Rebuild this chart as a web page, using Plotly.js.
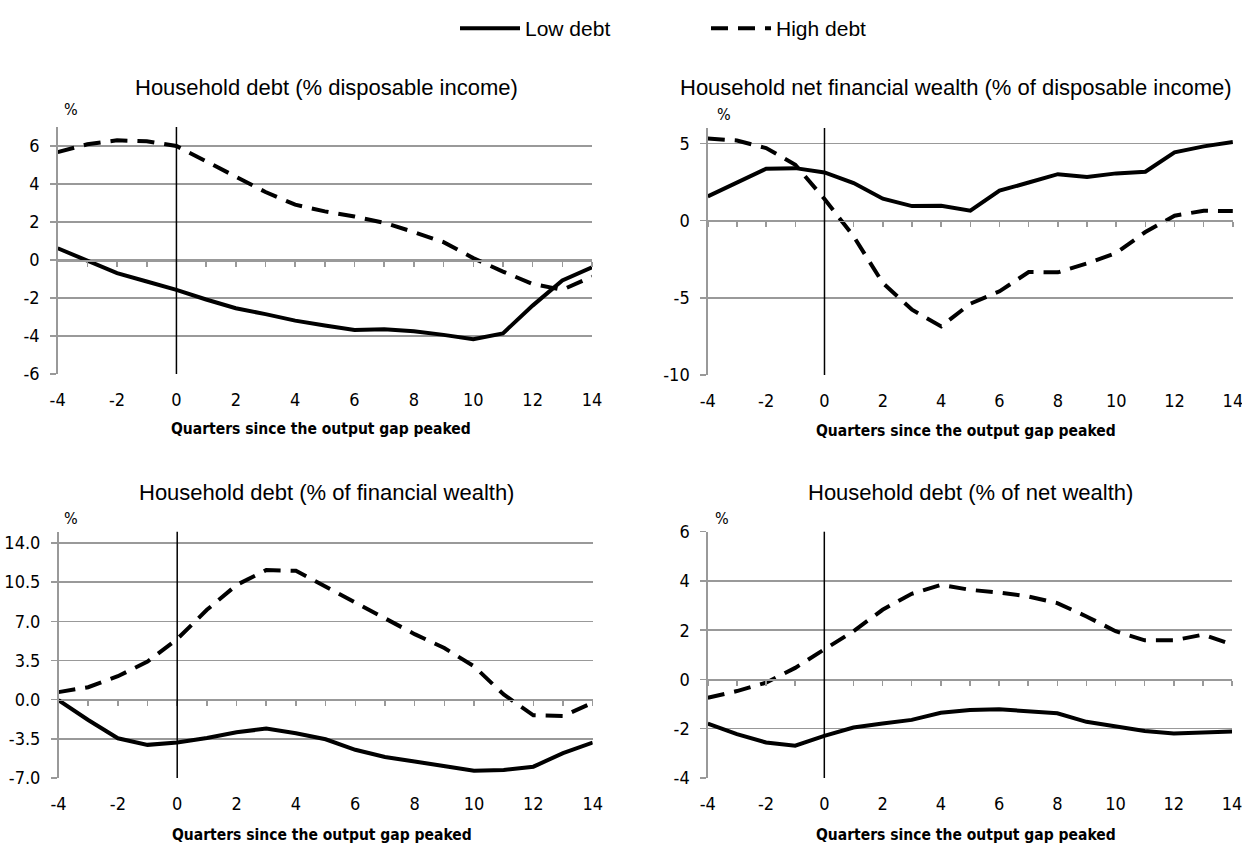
<!DOCTYPE html>
<html>
<head>
<meta charset="utf-8">
<script src="https://cdn.plot.ly/plotly-3.0.1.min.js"></script>
<style>html,body{margin:0;padding:0;background:#fff;}#chart{width:1242px;height:844px;}</style>
</head>
<body>
<div id="chart"></div>
<script>
// ---- data ----
const quarters = [-4, -3, -2, -1, 0, 1, 2, 3, 4, 5, 6, 7, 8, 9, 10, 11, 12, 13, 14];
const peakQuarter = 0;
const xTickVals = [-4, -2, 0, 2, 4, 6, 8, 10, 12, 14];
const xTickText = ['-4', '-2', '0', '2', '4', '6', '8', '10', '12', '14'];

const debtIncomeLow  = [0.62, -0.05, -0.69, -1.13, -1.57, -2.08, -2.54, -2.85, -3.19, -3.45, -3.68, -3.64, -3.75, -3.94, -4.17, -3.86, -2.40, -1.08, -0.38];
const debtIncomeHigh = [5.68, 6.09, 6.30, 6.25, 6.00, 5.19, 4.37, 3.58, 2.91, 2.56, 2.29, 1.96, 1.47, 0.94, 0.10, -0.61, -1.26, -1.57, -0.87];
const debtIncomeTicks = [-6, -4, -2, 0, 2, 4, 6];
const debtIncomeTickText = ['-6', '-4', '-2', '0', '2', '4', '6'];

const netFinLow  = [1.57, 2.43, 3.36, 3.40, 3.12, 2.43, 1.42, 0.94, 0.96, 0.64, 1.94, 2.47, 3.01, 2.82, 3.06, 3.17, 4.42, 4.81, 5.09];
const netFinHigh = [5.32, 5.19, 4.70, 3.62, 1.40, -1.02, -4.04, -5.77, -6.85, -5.38, -4.58, -3.33, -3.35, -2.77, -2.10, -0.74, 0.32, 0.64, 0.62];
const netFinTicks = [-10, -5, 0, 5];
const netFinTickText = ['-10', '-5', '0', '5'];

const debtFinLow  = [-0.05, -1.82, -3.45, -4.04, -3.83, -3.42, -2.91, -2.59, -3.00, -3.54, -4.48, -5.13, -5.52, -5.96, -6.35, -6.29, -5.99, -4.78, -3.83];
const debtFinHigh = [0.67, 1.11, 2.09, 3.40, 5.41, 8.02, 10.24, 11.57, 11.51, 10.09, 8.76, 7.34, 5.85, 4.61, 2.98, 0.46, -1.40, -1.46, -0.28];
const debtFinTicks = [-7, -3.5, 0, 3.5, 7, 10.5, 14];
const debtFinTickText = ['-7.0', '-3.5', '0.0', '3.5', '7.0', '10.5', '14.0'];

const debtNetLow  = [-1.79, -2.22, -2.56, -2.69, -2.29, -1.95, -1.79, -1.64, -1.35, -1.24, -1.21, -1.29, -1.37, -1.72, -1.91, -2.09, -2.19, -2.17, -2.11];
const debtNetHigh = [-0.74, -0.47, -0.13, 0.47, 1.22, 1.96, 2.83, 3.48, 3.84, 3.64, 3.53, 3.37, 3.10, 2.56, 1.96, 1.59, 1.59, 1.82, 1.42];
const debtNetTicks = [-4, -2, 0, 2, 4, 6];
const debtNetTickText = ['-4', '-2', '0', '2', '4', '6'];

const seriesNames = ['Low debt', 'High debt'];
const panelTitles = [
  'Household debt (% disposable income)',
  'Household net financial wealth (% of disposable income)',
  'Household debt (% of financial wealth)',
  'Household debt (% of net wealth)'
];
const xAxisTitle = 'Quarters since the output gap peaked';
const unitLabel = '%';

// ---- layout helpers ----
const W = 1242, H = 844;
const px = v => v / W;
const py = v => 1 - v / H;

const NARROW = '"DejaVu Sans Condensed", "Liberation Sans", Arial, sans-serif';
const SANS = '"Liberation Sans", Arial, sans-serif';
const GRID = '#999999';

const panels = [
  {low: debtIncomeLow, high: debtIncomeHigh, tv: debtIncomeTicks, tt: debtIncomeTickText, x: [57.7, 592], y: [374, 127], range: [-6, 7], titleX: 326, titleY: 88, pctX: 62, pctY: 110, xtY: 429},
  {low: netFinLow, high: netFinHigh, tv: netFinTicks, tt: netFinTickText, x: [707.8, 1232.9], y: [375, 128], range: [-10, 6], titleX: 956, titleY: 88, pctX: 715, pctY: 114, xtY: 431},
  {low: debtFinLow, high: debtFinHigh, tv: debtFinTicks, tt: debtFinTickText, x: [58.5, 592.7], y: [778, 531.7], range: [-7, 15], titleX: 326, titleY: 492, pctX: 62, pctY: 518, xtY: 835},
  {low: debtNetLow, high: debtNetHigh, tv: debtNetTicks, tt: debtNetTickText, x: [707.8, 1232.1], y: [778, 531.7], range: [-4, 6], titleX: 970, titleY: 492, pctX: 713, pctY: 518, xtY: 835}
];

const data = [];
const layout = {
  width: W, height: H,
  margin: {l: 0, r: 0, t: 0, b: 0},
  paper_bgcolor: '#fff', plot_bgcolor: 'rgba(0,0,0,0)',
  showlegend: true,
  legend: {orientation: 'h', x: px(455), xanchor: 'left', y: py(8), yanchor: 'top',
           font: {family: SANS, size: 21, color: '#000'}, entrywidth: 176, entrywidthmode: 'pixels',
           itemwidth: 60, bgcolor: 'rgba(0,0,0,0)'},
  annotations: [],
  shapes: []
};

panels.forEach((p, i) => {
  const n = i + 1;
  const xa = n === 1 ? 'x' : 'x' + n;
  const ya = n === 1 ? 'y' : 'y' + n;
  const zx = 'x' + (n + 4);
  const xKey = n === 1 ? 'xaxis' : 'xaxis' + n;
  const yKey = n === 1 ? 'yaxis' : 'yaxis' + n;
  const zKey = 'xaxis' + (n + 4);
  const dom = [py(p.y[0]), py(p.y[1])];

  data.push({x: quarters, y: p.low, xaxis: xa, yaxis: ya, type: 'scatter', mode: 'lines',
    name: seriesNames[0], legendgroup: 'low', showlegend: i === 0,
    line: {color: '#000', width: 4}, hoverinfo: 'skip'});
  data.push({x: quarters, y: p.high, xaxis: xa, yaxis: ya, type: 'scatter', mode: 'lines',
    name: seriesNames[1], legendgroup: 'high', showlegend: i === 0,
    line: {color: '#000', width: 4, dash: '17px,10px'}, hoverinfo: 'skip'});
  // carrier for zero-line axis
  data.push({x: [quarters[0]], y: [null], xaxis: zx, yaxis: ya, type: 'scatter', mode: 'lines',
    showlegend: false, hoverinfo: 'skip'});

  layout[xKey] = {domain: [px(p.x[0]), px(p.x[1])], anchor: ya, range: [quarters[0], quarters[quarters.length - 1]],
    tickmode: 'array', tickvals: xTickVals, ticktext: xTickText, showgrid: false, zeroline: false, showline: false,
    ticks: '', ticklabelstandoff: 13, ticklabeloverflow: 'allow',
    tickfont: {family: NARROW, size: 18, color: '#000'}, fixedrange: true};
  const frac = (0 - p.range[0]) / (p.range[1] - p.range[0]);
  layout[zKey] = {overlaying: xa, anchor: 'free', position: dom[0] + frac * (dom[1] - dom[0]),
    side: 'bottom', range: [quarters[0], quarters[quarters.length - 1]], tickmode: 'array', tickvals: quarters,
    showline: true, linecolor: GRID, linewidth: 1.5, ticks: 'outside', ticklen: 5, tickcolor: GRID, tickwidth: 1.5,
    showticklabels: false, showgrid: false, zeroline: false, fixedrange: true};
  layout[yKey] = {domain: dom, anchor: xa, range: p.range, tickmode: 'array', tickvals: p.tv, ticktext: p.tt,
    showline: true, linecolor: GRID, linewidth: 1.5, ticks: 'outside', ticklen: 6,
    tickcolor: GRID, tickwidth: 1.5, showgrid: true, gridcolor: GRID, gridwidth: 1.5, zeroline: false,
    ticklabelstandoff: 7, ticklabeloverflow: 'allow', tickfont: {family: NARROW, size: 18, color: '#000'}, fixedrange: true};

  layout.shapes.push({type: 'line', xref: xa, yref: ya + ' domain', x0: peakQuarter, x1: peakQuarter, y0: 0, y1: 1,
    line: {color: '#000', width: 1.5}, layer: 'above'});

  layout.annotations.push({text: panelTitles[i], xref: 'paper', yref: 'paper', x: px(p.titleX), y: py(p.titleY),
    xanchor: 'center', yanchor: 'middle', showarrow: false, font: {family: SANS, size: 22, color: '#000'}});
  layout.annotations.push({text: unitLabel, xref: 'paper', yref: 'paper', x: px(p.pctX), y: py(p.pctY),
    xanchor: 'left', yanchor: 'middle', showarrow: false, font: {family: NARROW, size: 16, color: '#000'}});
  layout.annotations.push({text: xAxisTitle, xref: 'paper', yref: 'paper', x: px((p.x[0] + p.x[1]) / 2 - 4), y: py(p.xtY),
    xanchor: 'center', yanchor: 'middle', showarrow: false, font: {family: NARROW, size: 15.5, color: '#000', weight: 'bold'}});
});

Plotly.newPlot('chart', data, layout, {displayModeBar: false, staticPlot: true});
</script>
</body>
</html>
